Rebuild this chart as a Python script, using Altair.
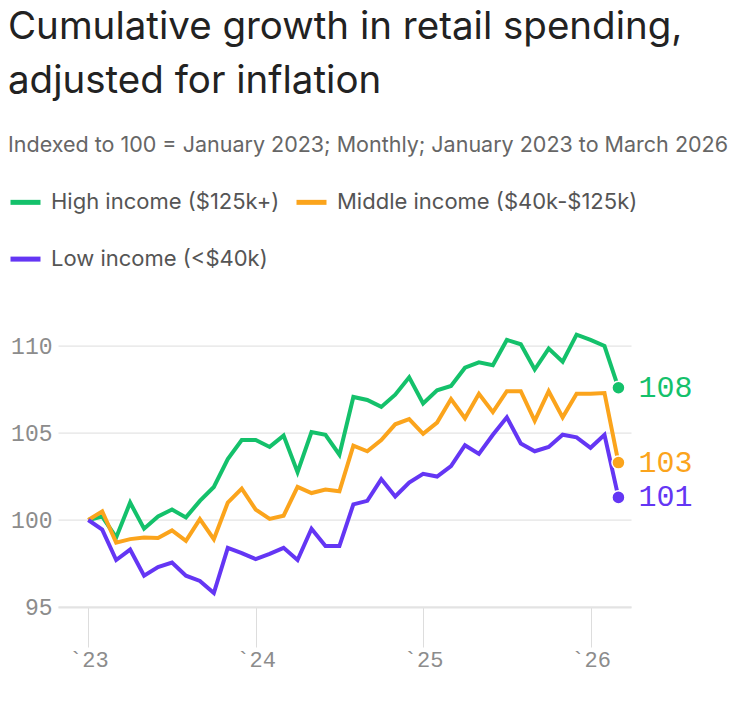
import altair as alt
import pandas as pd

# ---- data ----
months = list(range(39))  # 0 = Jan 2023 ... 38 = Mar 2026
high = [100, 100.2, 99.0, 101.0, 99.5, 100.2, 100.6, 100.15, 101.1, 101.9, 103.5, 104.6,
        104.6, 104.2, 104.85, 102.75, 105.05, 104.9, 103.75, 107.07, 106.9, 106.5, 107.2, 108.2,
        106.7, 107.45, 107.7, 108.75, 109.06, 108.9, 110.35, 110.1, 108.65, 109.85, 109.1, 110.65,
        110.35, 110.0, 107.6]
middle = [100, 100.5, 98.7, 98.9, 99.0, 98.97, 99.4, 98.8, 100.05, 98.9, 101.0, 101.8,
          100.6, 100.06, 100.25, 101.9, 101.55, 101.75, 101.65, 104.27, 103.95, 104.6, 105.5, 105.8,
          104.95, 105.6, 106.95, 105.85, 107.25, 106.2, 107.4, 107.4, 105.7, 107.4, 105.9, 107.25,
          107.25, 107.3, 103.3]
low = [100, 99.45, 97.7, 98.3, 96.8, 97.3, 97.55, 96.8, 96.5, 95.8, 98.4, 98.1,
       97.75, 98.05, 98.4, 97.7, 99.5, 98.5, 98.5, 100.9, 101.1, 102.35, 101.35, 102.15,
       102.65, 102.5, 103.1, 104.3, 103.8, 104.9, 105.9, 104.4, 103.95, 104.2, 104.9, 104.75,
       104.15, 104.9, 101.3]
series_names = ["High income ($125k+)", "Middle income ($40k-$125k)", "Low income (<$40k)"]
series_colors = ["#14c16b", "#fba41c", "#6436f4"]
x_tick_values = [0, 12, 24, 36]
x_tick_labels = ["`23", "`24", "`25", "`26"]
y_tick_values = [95, 100, 105, 110]

rows = []
for name, vals in zip(series_names, [high, middle, low]):
    for m, v in zip(months, vals):
        rows.append({"month": m, "series": name, "value": v})
df = pd.DataFrame(rows)
last_df = df[df["month"] == months[-1]]

label_expr = " : ".join(
    f"datum.value == {v} ? '{t}'" for v, t in zip(x_tick_values, x_tick_labels)
) + " : ''"

mono = "Liberation Mono"
sans = "Inter"

color_scale = alt.Scale(domain=series_names, range=series_colors)
color = alt.Color(
    "series:N",
    scale=color_scale,
    legend=alt.Legend(
        orient="none", legendX=-50, legendY=-144, columns=2, direction="horizontal",
        symbolType="stroke", symbolSize=900, symbolStrokeWidth=5,
        labelFont=sans, labelFontSize=22, labelColor="#555555", labelOffset=8,
        labelLimit=400, columnPadding=6, rowPadding=28, title=None,
    ),
)

x = alt.X(
    "month:Q",
    scale=alt.Scale(domain=[-2.17, 38.9], nice=False, zero=False),
    axis=alt.Axis(
        values=x_tick_values, labelExpr=label_expr, title=None, grid=False,
        tickSize=40, tickColor="#dddddd", tickWidth=1,
        domainColor="#e3e3e3", domainWidth=2,
        labelFont=mono, labelFontSize=22, labelColor="#8c8c8c", labelPadding=2,
    ),
)
y = alt.Y(
    "value:Q",
    scale=alt.Scale(domain=[95, 111], nice=False, zero=False),
    axis=alt.Axis(
        values=y_tick_values, title=None, domain=False, ticks=False,
        gridColor="#dddddd", gridWidth=1,
        labelFont=mono, labelFontSize=23, labelColor="#8c8c8c", labelPadding=6,
    ),
)

lines = alt.Chart(df).mark_line(strokeWidth=4).encode(x=x, y=y, color=color)
dots = alt.Chart(last_df).mark_circle(size=170, opacity=1, stroke="white", strokeWidth=1.5).encode(
    x=x, y=y, color=alt.Color("series:N", scale=color_scale, legend=None)
)
labels = alt.Chart(last_df).mark_text(align="left", baseline="middle", dx=20, font=mono, fontSize=30).encode(
    x=x, y=y, text=alt.Text("value:Q", format=".0f"),
    color=alt.Color("series:N", scale=color_scale, legend=None),
)

chart = alt.layer(lines, dots, labels).properties(
    width=573, height=278.4,
    autosize=alt.AutoSizeParams(type="none"),
    padding={"left": 50, "top": 320.6, "right": 110, "bottom": 90},
    title=alt.Title(
        text=["Cumulative growth in retail spending,", "adjusted for inflation"],
        subtitle="Indexed to 100 = January 2023; Monthly; January 2023 to March 2026",
        anchor="start", frame="group", dx=-50, offset=27,
        font=sans, fontSize=38.5, fontWeight="normal", color="#222222", lineHeight=54,
        subtitleFont=sans, subtitleFontSize=21.5, subtitleColor="#666666", subtitlePadding=34,
    ),
).configure_view(stroke=None)

chart.save("out.html", embed_options={"renderer": "svg", "actions": False})
